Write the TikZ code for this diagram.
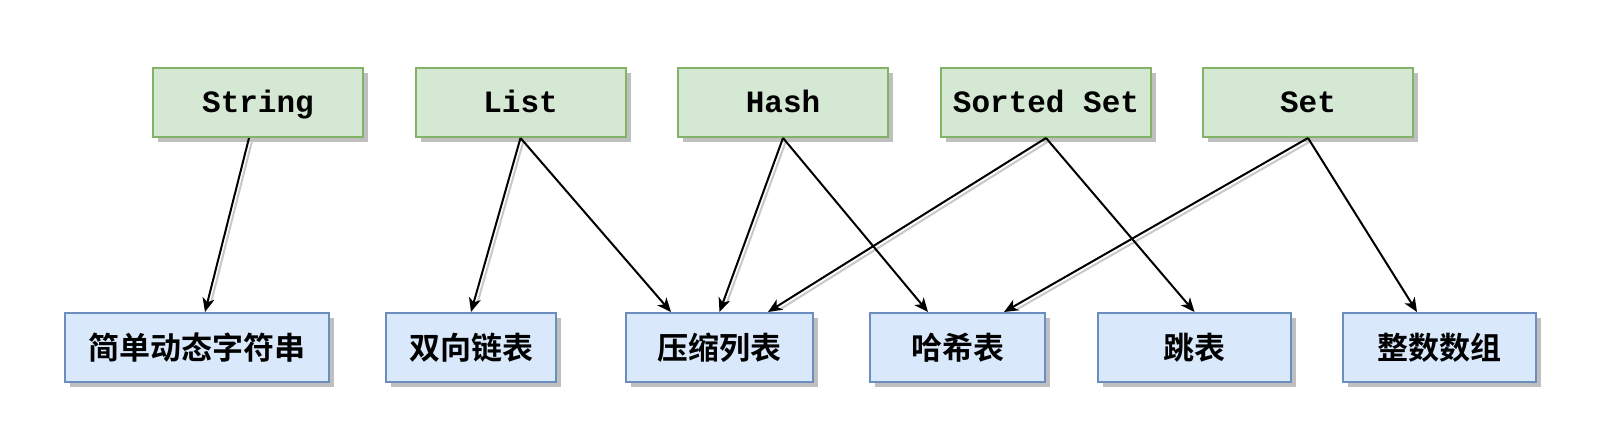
\documentclass[tikz,border=0pt]{standalone}
\usepackage{fontspec}
\newfontfamily\monofont{Liberation Mono}
\newfontfamily\cjkfont{Noto Sans CJK SC Bold}
\usetikzlibrary{arrows.meta,calc}
\definecolor{gfill}{HTML}{D5E8D4}
\definecolor{gline}{HTML}{82B366}
\definecolor{bfill}{HTML}{DAE8FC}
\definecolor{bline}{HTML}{6C8EBF}
\definecolor{shade}{RGB}{191,191,191}
\definecolor{eshade}{RGB}{200,200,200}
\tikzset{
  typebox/.style={draw=gline, fill=gfill, line width=2pt, minimum width=210pt, minimum height=69pt, inner sep=0pt,
    text height=24pt, text depth=3pt,
    font=\monofont\bfseries\fontsize{31}{36}\selectfont,
    preaction={draw=none, fill=shade, transform canvas={xshift=5pt,yshift=-5pt}}},
  implbox/.style={draw=bline, fill=bfill, line width=2pt, minimum height=69pt, inner sep=0pt,
    font=\cjkfont\fontsize{31}{36}\selectfont,
    preaction={draw=none, fill=shade, transform canvas={xshift=5pt,yshift=-5pt}}},
  conn/.style={line width=2pt, -{Stealth[length=14pt,width=12pt,inset=4pt]}},
  connshadow/.style={line width=2pt, draw=eshade},
}
\begin{document}
\begin{tikzpicture}[x=1pt,y=-1pt]
\useasboundingbox (0,0) rectangle (1600,438);
% top row
\node[typebox] (str)  at (258,102.5) {String};
\node[typebox] (lst)  at (520.5,102.5) {List};
\node[typebox] (hsh)  at (783,102.5) {Hash};
\node[typebox] (zst)  at (1046,102.5) {Sorted Set};
\node[typebox] (set)  at (1308,102.5) {Set};
% bottom row
\node[implbox, minimum width=264pt] (sds)  at (197,347.5) {简单动态字符串};
\node[implbox, minimum width=170pt] (dll)  at (471,347.5) {双向链表};
\node[implbox, minimum width=187pt] (zip)  at (719.5,347.5) {压缩列表};
\node[implbox, minimum width=175pt] (ht)   at (957.5,347.5) {哈希表};
\node[implbox, minimum width=193pt] (skl)  at (1194.5,347.5) {跳表};
\node[implbox, minimum width=193pt] (ints) at (1439.5,347.5) {整数数组};
% shadows of some connectors
\begin{scope}[transform canvas={xshift=3pt,yshift=-3pt}]
  \draw[connshadow, shorten >=12pt] ([xshift=-9pt]str.south) -- ([xshift=8pt]sds.north);
  \draw[connshadow, shorten >=12pt] (lst.south) -- (dll.north);
  \draw[connshadow, shorten >=12pt] (hsh.south) -- (zip.north);
  \draw[connshadow, shorten >=12pt] (zst.south) -- ([xshift=48.5pt]zip.north);
  \draw[connshadow, shorten >=12pt] (set.south) -- ([xshift=46.5pt]ht.north);
\end{scope}
% connectors
\draw[conn] ([xshift=-9pt]str.south) -- ([xshift=8pt]sds.north);
\draw[conn] (lst.south) -- (dll.north);
\draw[conn] (lst.south) -- ([xshift=-48.5pt]zip.north);
\draw[conn] (hsh.south) -- (zip.north);
\draw[conn] (hsh.south) -- ([xshift=-29.5pt]ht.north);
\draw[conn] (zst.south) -- ([xshift=48.5pt]zip.north);
\draw[conn] (zst.south) -- (skl.north);
\draw[conn] (set.south) -- ([xshift=46.5pt]ht.north);
\draw[conn] (set.south) -- ([xshift=-22.5pt]ints.north);
\end{tikzpicture}
\end{document}
